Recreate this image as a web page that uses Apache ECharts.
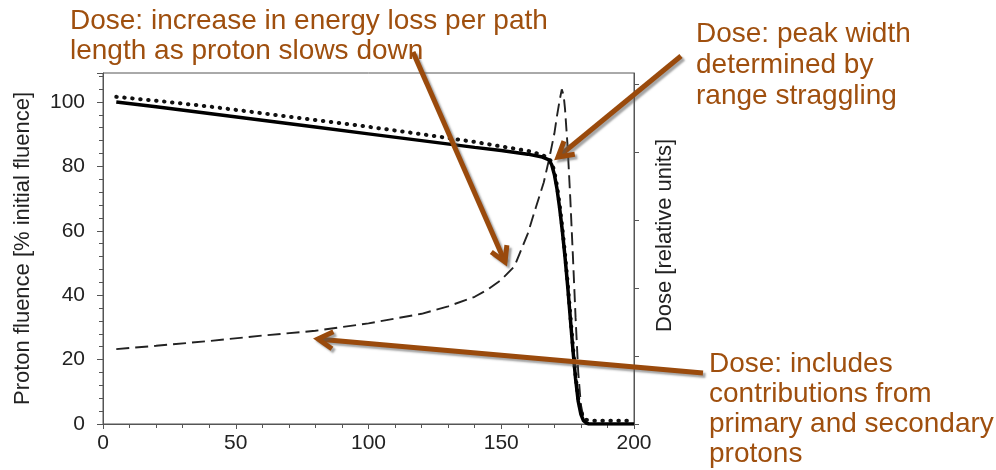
<!DOCTYPE html>
<html>
<head>
<meta charset="utf-8">
<script src="https://cdn.jsdelivr.net/npm/echarts@6/dist/echarts.min.js"></script>
<style>html,body{margin:0;padding:0;background:#fff}#c{width:996px;height:470px}</style>
</head>
<body>
<div id="c"></div>
<script>
// ---- data ----
var xTicks = [0, 50, 100, 150, 200];
var yTicks = [0, 20, 40, 60, 80, 100];

var fluenceDepth = [5,20,40,60,80,100,120,140,150,160,165,168,169,170,171,172,173,174,175,176,177,178,179,180,181,182,183,190,200];
var fluencePrimary = [100,98.5,96.4,94.3,92.2,90.1,88.0,85.9,84.9,83.8,83.0,82.0,80.5,77.5,73,67,60,52,43,33,23,14,7,3,1,0.3,0,0,0];

var totalDepth = [5,20,40,60,80,100,120,140,150,160,165,168,169,170,171,172,173,174,175,176,177,178,179,180,181,182,184,190,200];
var fluenceTotal = [101.6,100.4,98.6,96.5,94.4,92.3,90.0,87.6,86.2,84.8,83.7,82.5,81.2,78.5,74,68,61,53,44,34,24,15,8,4,2,1.3,1,1,1];

var doseDepth = [5,20,40,60,80,100,120,130,140,145,150,155,160,163,166,168,170,171,172,172.8,173.5,174,175,176,177,178,179,180,181,182,183,190,200];
var doseValues = [1.10,1.15,1.22,1.30,1.37,1.48,1.62,1.73,1.87,1.98,2.12,2.32,2.80,3.18,3.55,3.89,4.27,4.53,4.76,4.92,4.83,4.64,4.08,3.32,2.46,1.56,0.76,0.28,0.09,0.02,0,0,0];

var notes = [
  "Dose: increase in energy loss per path\nlength as proton slows down",
  "Dose: peak width\ndetermined by\nrange straggling",
  "Dose: includes\ncontributions from\nprimary and secondary\nprotons"
];

function pairs(xs, ys){ return xs.map(function(x,i){ return [x, ys[i]]; }); }

var BROWN_TEXT = '#9F4F0E';
var BROWN = '#9A4A0C';

function arrow(tail, tip){
  var dx = tip[0]-tail[0], dy = tip[1]-tail[1];
  var len = Math.sqrt(dx*dx+dy*dy); var ux = dx/len, uy = dy/len;
  var L = 17, a = Math.PI/6;
  function rot(t){ return [ux*Math.cos(t)-uy*Math.sin(t), ux*Math.sin(t)+uy*Math.cos(t)]; }
  var r1 = rot(a), r2 = rot(-a);
  var b1 = [tip[0]-L*r1[0], tip[1]-L*r1[1]];
  var b2 = [tip[0]-L*r2[0], tip[1]-L*r2[1]];
  var st = {stroke: BROWN, lineWidth: 5, lineCap:'butt', lineJoin:'miter',
            shadowColor:'rgba(90,90,90,0.55)', shadowBlur:2, shadowOffsetX:2.5, shadowOffsetY:2.5};
  return [
    {type:'line', shape:{x1:tail[0],y1:tail[1],x2:tip[0]-ux*2,y2:tip[1]-uy*2}, style:st, z:100},
    {type:'polyline', shape:{points:[b1, tip, b2]}, style:st, z:100}
  ];
}

var chart = echarts.init(document.getElementById('c'), null, {renderer:'canvas'});
var FONT = 'Liberation Sans, Arial, sans-serif';

var graphics = [];
graphics = graphics.concat(arrow([413,52],[505,262]));
graphics = graphics.concat(arrow([681,56],[558,157]));
graphics = graphics.concat(arrow([703,373],[318,339]));
graphics.push({type:'text', left:70, top:6, z:110, style:{text:notes[0], fill:BROWN_TEXT, font:'28px '+FONT, lineHeight:30}});
graphics.push({type:'text', left:696, top:19, z:110, style:{text:notes[1], fill:BROWN_TEXT, font:'28px '+FONT, lineHeight:31}});
graphics.push({type:'text', left:709, top:349, z:110, style:{text:notes[2], fill:BROWN_TEXT, font:'28px '+FONT, lineHeight:30}});

var option = {
  animation:false,
  backgroundColor:'#fff',
  textStyle:{fontFamily:FONT},
  grid:{left:103, right:362, top:73, bottom:46, show:true, borderColor:'#555', borderWidth:1},
  xAxis:{
    type:'value', min:0, max:200, interval:50,
    axisLine:{show:true, onZero:false, lineStyle:{color:'#555', width:1}},
    axisTick:{show:true, inside:false, length:5, lineStyle:{color:'#555'}},
    minorTick:{show:true, splitNumber:5, length:4, lineStyle:{color:'#555'}},
    splitLine:{show:false},
    axisLabel:{fontSize:21, color:'#222', margin:9, fontFamily:FONT}
  },
  yAxis:[{
    type:'value', min:0, max:109, interval:20,
    axisLine:{show:true, lineStyle:{color:'#555', width:1}},
    axisTick:{show:true, inside:false, length:6, lineStyle:{color:'#555'}},
    minorTick:{show:true, splitNumber:5, length:4, lineStyle:{color:'#555'}},
    splitLine:{show:false},
    axisLabel:{fontSize:21, color:'#222', margin:18, showMaxLabel:false, fontFamily:FONT},
    name:'Proton fluence [% initial fluence]', nameLocation:'middle', nameRotate:90, nameGap:69,
    nameTextStyle:{fontSize:22, color:'#222', fontFamily:FONT}
  },{
    type:'value', min:0, max:5.16, interval:1, position:'right',
    axisLine:{show:true, lineStyle:{color:'#555', width:1}},
    axisTick:{show:true, inside:false, length:5, lineStyle:{color:'#555'}, customValues:[0,1,2,3,4,5]},
    splitLine:{show:false},
    axisLabel:{show:false},
    name:'Dose [relative units]', nameLocation:'middle', nameRotate:90, nameGap:20,
    nameTextStyle:{fontSize:22, color:'#222', fontFamily:FONT, padding:[0,0,0,26]}
  }],
  series:[
    {type:'line', name:'Dose', yAxisIndex:1, data:pairs(doseDepth, doseValues), showSymbol:false, z:3,
      lineStyle:{color:'#222', width:1.9, type:[13,6]}},
    {type:'line', name:'Total fluence', data:pairs(totalDepth, fluenceTotal), showSymbol:false, z:4,
      lineStyle:{color:'#111', width:4, type:[0.5,7.5], cap:'round'}},
    {type:'line', name:'Primary fluence', data:pairs(fluenceDepth, fluencePrimary), showSymbol:false, z:5,
      lineStyle:{color:'#000', width:3.5}}
  ],
  graphic:graphics
};
chart.setOption(option);
</script>
</body>
</html>
